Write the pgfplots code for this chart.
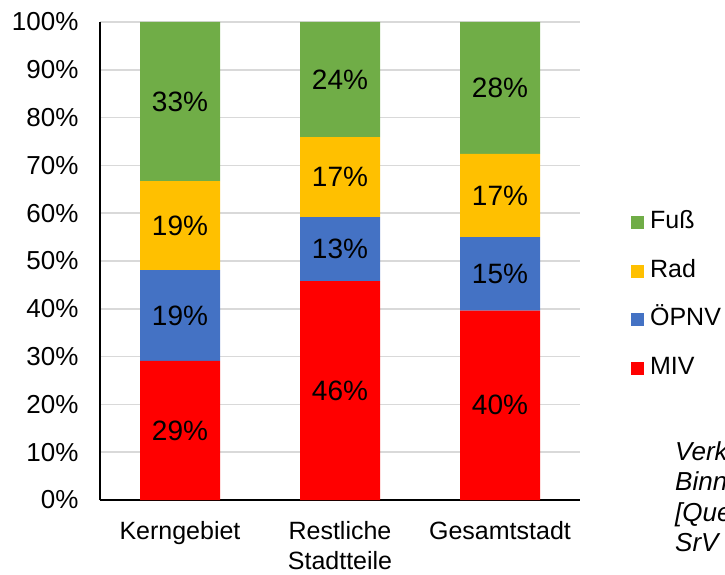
\documentclass[border=0pt]{standalone}
\usepackage{pgfplots}
\usepackage{pgfplotstable}
\pgfplotsset{compat=1.18}
\usepackage{fontspec}
\setmainfont{Liberation Sans}
\definecolor{miv}{HTML}{FF0000}
\definecolor{oepnv}{HTML}{4472C4}
\definecolor{rad}{HTML}{FFC000}
\definecolor{fuss}{HTML}{70AD47}
\definecolor{gridgray}{HTML}{D9D9D9}
\pgfplotstableread{
x miv oepnv rad fuss
0 29.1 19.0 18.6 33.3
1 45.8 13.4 16.7 24.1
2 39.6 15.4 17.4 27.6
}\data
\begin{document}
\begin{tikzpicture}[x=1pt,y=1pt]
\useasboundingbox (0,0) rectangle (725,574);
\clip (0,0) rectangle (725,574);
\begin{axis}[
  at={(100pt,74pt)}, anchor=south west,
  scale only axis, width=480pt, height=478pt,
  ybar stacked, bar width=80pt,
  xmin=-0.5, xmax=2.5, ymin=0, ymax=100,
  xtick={0,1,2},
  xticklabels={Kerngebiet,{Restliche\\Stadtteile},Gesamtstadt},
  xticklabel style={align=center, font=\fontsize{25}{30}\selectfont, yshift=-18pt},
  ytick={0,10,...,100},
  yticklabel={\pgfmathprintnumber{\tick}\%},
  yticklabel style={font=\fontsize{26}{28}\selectfont, xshift=-18pt},
  /pgf/number format/assume math mode=true,
  ymajorgrids, grid style={draw=gridgray, line width=1.5pt},
  axis x line*=bottom, axis y line*=left,
  axis line style={black, line width=1.5pt, -},
  major tick length=0pt,
  point meta=rawy,
  nodes near coords={\pgfmathprintnumber[fixed,precision=0]{\pgfplotspointmeta}\%},
  every node near coord/.append style={font=\fontsize{28}{30}\selectfont, anchor=center, black},
  reverse legend,
  legend style={at={(1.106,0.428)}, anchor=west, draw=none, fill=none,
     font=\fontsize{25}{28}\selectfont, row sep=26.5pt, column sep=6pt, inner sep=0pt,
     nodes={inner sep=0pt, text height=17pt, text depth=5pt, anchor=west}},
  legend cell align=left,
  legend image code/.code={\fill[#1] (0pt,-6.5pt) rectangle (13pt,6.5pt);},
]
\addplot[fill=miv, draw=none] table[x=x,y=miv]{\data};
\addplot[fill=oepnv, draw=none] table[x=x,y=oepnv]{\data};
\addplot[fill=rad, draw=none] table[x=x,y=rad]{\data};
\addplot[fill=fuss, draw=none] table[x=x,y=fuss]{\data};
\legend{MIV,ÖPNV,Rad,Fuß}
\end{axis}
\node[anchor=north west, align=left, inner sep=0pt, font=\itshape\fontsize{26}{30.5}\selectfont]
  at (675,133) {Verkehrsmittelwahl im\\Binnenverkehr\\{[}Quelle:\\SrV 2018]};
\end{tikzpicture}
\end{document}
